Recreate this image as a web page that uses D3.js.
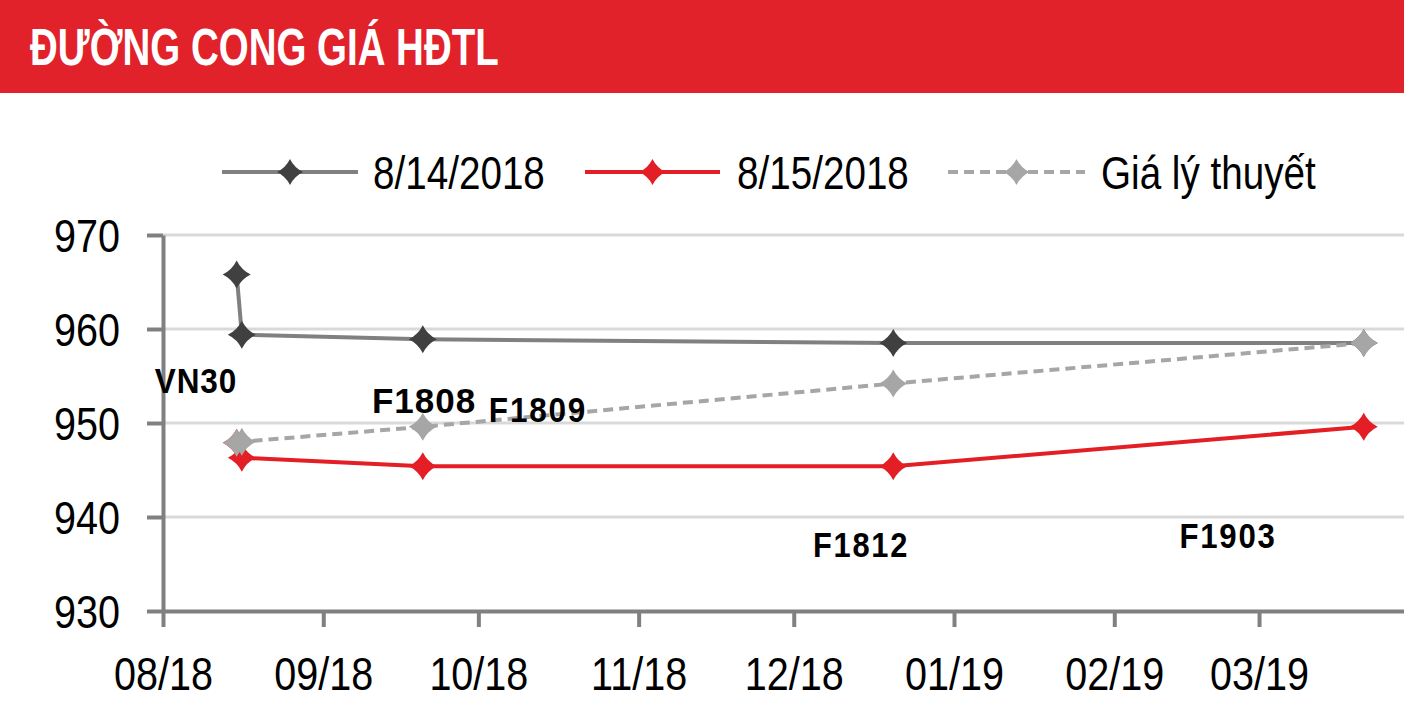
<!DOCTYPE html>
<html><head><meta charset="utf-8">
<script src="https://cdn.jsdelivr.net/npm/d3@7"></script>
<style>body{margin:0;background:#fff;} svg{display:block}</style>
</head><body><svg id="c" width="1404" height="717"></svg>
<script>
// ---------- data ----------
const title = "ĐƯỜNG CONG GIÁ HĐTL";
const contracts = ["VN30", "F1808", "F1809", "F1812", "F1903"];
const contractDates = ["2018-08-15", "2018-08-16", "2018-09-20", "2018-12-20", "2019-03-21"];
const seriesNames = ["8/14/2018", "8/15/2018", "Giá lý thuyết"];
const price0814 = [965.8, 959.4, 958.9, 958.5, 958.5];
const price0815 = [947.9, 946.3, 945.4, 945.4, 949.6];
const priceTheory = [947.9, 948.0, 949.6, 954.2, 958.5];
const yTickValues = [930, 940, 950, 960, 970];
const xTickLabels = ["08/18", "09/18", "10/18", "11/18", "12/18", "01/19", "02/19", "03/19"];
const xTickDates = ["2018-08-01", "2018-09-01", "2018-10-01", "2018-11-01", "2018-12-01", "2019-01-01", "2019-02-01", "2019-03-01"];

// ---------- layout / style ----------
const W = 1404, H = 717;
const plot = {left: 163, top: 235, bottom: 611};
const FONT = "'Liberation Sans', Arial, Helvetica, sans-serif";
const RED = "#E31E25";
const styles = [
  {line: "#808080", marker: "#404040", dash: null},
  {line: RED, marker: RED, dash: null},
  {line: "#A6A6A6", marker: "#A6A6A6", dash: "10,6"}
];
// contract label placement (center x, baseline y, horizontal squeeze, letter spacing)
const labelPlace = [
  {x: 196, y: 393, sx: 0.9, ls: 1},
  {x: 424, y: 413, sx: 1.0, ls: 1},
  {x: 538, y: 422, sx: 0.9, ls: 2},
  {x: 861, y: 557, sx: 0.88, ls: 2},
  {x: 1228, y: 548, sx: 0.89, ls: 2}
];
const TICK_SX = 0.86;

const parse = d3.utcParse("%Y-%m-%d %H");
const pd = s => parse(s + " 00");
const pdPoint = s => parse(s + " 06");
const svg = d3.select("#c");

// title bar
svg.append("rect").attr("x", 0).attr("y", 0).attr("width", W).attr("height", 93).attr("fill", "#E1222B");
svg.append("text").attr("transform", "translate(30,65) scale(0.74,1)").text(title)
  .attr("fill", "#fff").attr("font-family", FONT).attr("font-weight", "bold").attr("font-size", 52);

// scales
const x = d3.scaleUtc().domain([pd("2018-08-01"), pd("2019-03-31")]).range([plot.left, plot.left + 242 * 5.17]);
const y = d3.scaleLinear().domain([930, 970]).range([plot.bottom, plot.top]);

// gridlines
svg.append("g").selectAll("line").data(yTickValues.filter(v => v !== 930)).join("line")
  .attr("x1", plot.left).attr("x2", W).attr("y1", d => y(d)).attr("y2", d => y(d))
  .attr("stroke", "#D9D9D9").attr("stroke-width", 3);

// y axis
const yAxis = d3.axisLeft(y).tickValues(yTickValues).tickSize(16).tickPadding(34).tickSizeOuter(0);
const gy = svg.append("g").attr("transform", `translate(${plot.left},0)`).call(yAxis);
gy.select(".domain").attr("stroke", "#808080").attr("stroke-width", 4);
gy.selectAll(".tick line").attr("stroke", "#808080").attr("stroke-width", 4);
gy.selectAll(".tick text").attr("font-family", FONT).attr("font-size", 46).attr("fill", "#000")
  .attr("dy", "0.36em").attr("transform", `scale(${TICK_SX},1)`);

// x axis
const xAxis = d3.axisBottom(x).tickValues(xTickDates.map(pd)).tickFormat((d, i) => xTickLabels[i])
  .tickSize(16).tickPadding(30).tickSizeOuter(0);
const gx = svg.append("g").attr("transform", `translate(0,${plot.bottom})`).call(xAxis);
gx.select(".domain").attr("stroke", "#808080").attr("stroke-width", 4);
gx.selectAll(".tick line").attr("stroke", "#808080").attr("stroke-width", 4);
gx.selectAll(".tick text").attr("font-family", FONT).attr("font-size", 46).attr("fill", "#000")
  .attr("transform", `scale(${TICK_SX},1)`);

// marker
function sparkle(r) {
  const c = r * 0.33;
  return `M0,${-r}Q${c},${-c} ${r},0Q${c},${c} 0,${r}Q${-c},${c} ${-r},0Q${-c},${-c} 0,${-r}Z`;
}

const allSeries = [price0814, price0815, priceTheory];
const line = d3.line().x(d => x(d.date)).y(d => y(d.v));
allSeries.forEach((vals, si) => {
  const pts = vals.map((v, i) => ({date: pdPoint(contractDates[i]), v}));
  const st = styles[si];
  const g = svg.append("g");
  g.append("path").datum(pts).attr("d", line).attr("fill", "none")
    .attr("stroke", st.line).attr("stroke-width", 4).attr("stroke-dasharray", st.dash);
  g.selectAll("path.m").data(pts).join("path").attr("class", "m")
    .attr("d", sparkle(14)).attr("fill", st.marker)
    .attr("transform", d => `translate(${x(d.date)},${y(d.v)})`);
});

// contract labels
svg.append("g").selectAll("text").data(contracts).join("text")
  .attr("transform", (d, i) => `translate(${labelPlace[i].x},${labelPlace[i].y}) scale(${labelPlace[i].sx},1)`)
  .attr("text-anchor", "middle").attr("font-family", FONT)
  .attr("letter-spacing", (d, i) => labelPlace[i].ls)
  .attr("font-weight", "bold").attr("font-size", 35).attr("fill", "#000").text(d => d);

// legend
const legendPos = [{x0: 222, x1: 358, tx: 373}, {x0: 585, x1: 720, tx: 737}, {x0: 948, x1: 1085, tx: 1101}];
const lg = svg.append("g");
seriesNames.forEach((name, i) => {
  const p = legendPos[i], st = styles[i], ly = 172;
  lg.append("line").attr("x1", p.x0).attr("x2", p.x1).attr("y1", ly).attr("y2", ly)
    .attr("stroke", st.line).attr("stroke-width", 4).attr("stroke-dasharray", st.dash);
  lg.append("path").attr("d", sparkle(13)).attr("fill", st.marker)
    .attr("transform", `translate(${(p.x0 + p.x1) / 2},${ly})`);
  lg.append("text").attr("transform", `translate(${p.tx},189) scale(0.84,1)`).text(name)
    .attr("font-family", FONT).attr("font-size", 46).attr("fill", "#000");
});
</script></body></html>
